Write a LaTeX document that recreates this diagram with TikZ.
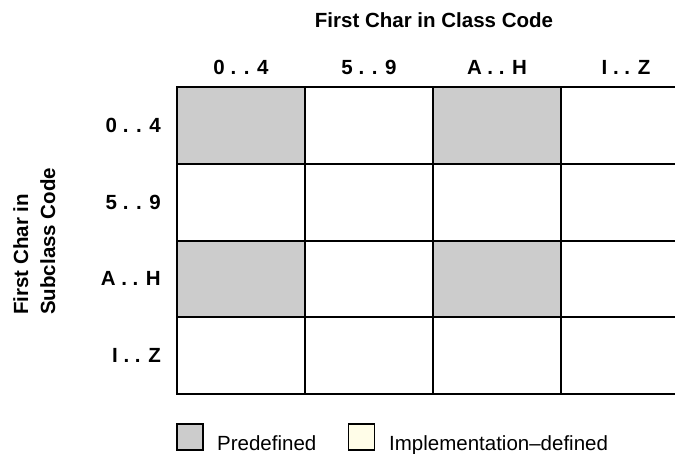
\documentclass[tikz,border=0pt]{standalone}
\usepackage{fontspec}
\setmainfont{Liberation Sans}
\definecolor{predef}{HTML}{CCCCCC}
\definecolor{impl}{HTML}{FFFDE8}
\tikzset{
  cell/.style={draw=black, line width=2pt, minimum width=128pt, minimum height=76.75pt, inner sep=0pt, fill=white},
  grey/.style={cell, fill=predef},
  lab/.style={font=\fontsize{20.5}{24}\selectfont\bfseries, inner sep=0pt},
  rowlab/.style={lab, anchor=east},
  sidelab/.style={lab, rotate=90, anchor=base west},
  legbox/.style={draw=black, line width=1.5pt, minimum width=26pt, minimum height=26pt, inner sep=0pt},
  legtext/.style={font=\fontsize{20.5}{24}\selectfont, anchor=base west, inner sep=0pt}
}
\begin{document}
\begin{tikzpicture}[x=1pt,y=-1pt]
\useasboundingbox (0,0) rectangle (675,453);
% grid cells
\foreach \r in {1,...,4}{
  \foreach \c in {1,...,4}{
    \pgfmathsetmacro{\cx}{177+128*(\c-0.5)}
    \pgfmathsetmacro{\cy}{87+76.75*(\r-0.5)}
    \node[cell] (c-\r-\c) at (\cx,\cy) {};
  }
}
\node[grey] (g11) at (c-1-1) {};
\node[grey] (g13) at (c-1-3) {};
\node[grey] (g31) at (c-3-1) {};
\node[grey] (g33) at (c-3-3) {};
% title
\node[lab, anchor=base] (title) at (434,27) {First Char in Class Code};
% column labels
\node[lab, anchor=base] (col1) at (241,74) {0 . . 4};
\node[lab, anchor=base] (col2) at (369,74) {5 . . 9};
\node[lab, anchor=base] (col3) at (497,74) {A . . H};
\node[lab, anchor=base] (col4) at (626,74) {I . . Z};
% row labels
\node[rowlab] (row1) at (161,125.4) {0 . . 4};
\node[rowlab] (row2) at (161,202.1) {5 . . 9};
\node[rowlab] (row3) at (161,278.9) {A . . H};
\node[rowlab] (row4) at (161,355.6) {I . . Z};
% vertical label
\node[sidelab] (side1) at (28,315) {First Char in};
\node[sidelab] (side2) at (55,315) {Subclass Code};
% legend
\node[legbox, fill=predef] (lg1) at (190,437) {};
\node[legtext] (lt1) at (217,450) {Predefined};
\node[legbox, fill=impl] (lg2) at (361.5,437) {};
\node[legtext] (lt2) at (389,450) {Implementation–defined};
\end{tikzpicture}
\end{document}
